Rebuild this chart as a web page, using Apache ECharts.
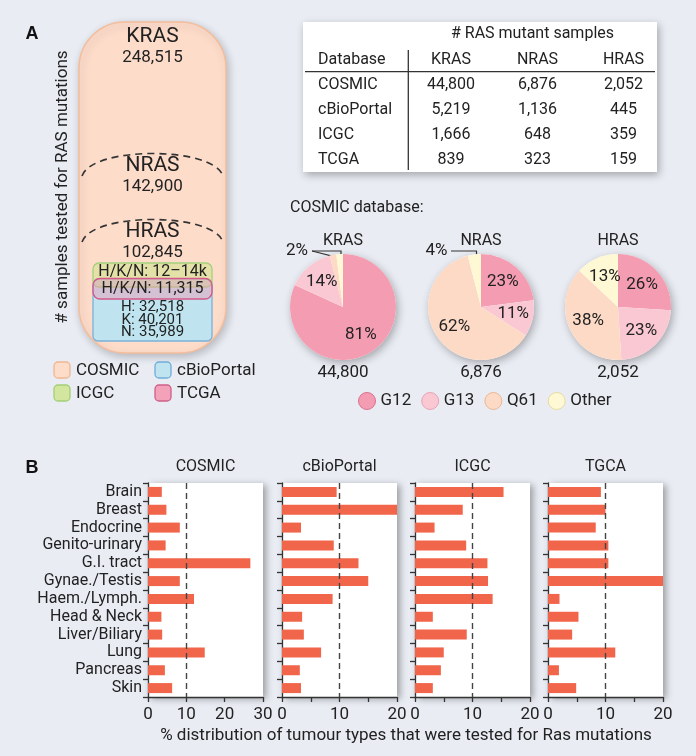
<!DOCTYPE html>
<html><head><meta charset="utf-8">
<script src="https://cdn.jsdelivr.net/npm/echarts@6/dist/echarts.min.js"></script>
<style>html,body{margin:0;padding:0;background:#e9ecf3}#c{width:696px;height:756px}</style>
</head><body><div id="c"></div>
<script>
// ---------- DATA ----------
const categories = ['Brain','Breast','Endocrine','Genito-urinary','G.I. tract','Gynae./Testis','Haem./Lymph.','Head & Neck','Liver/Biliary','Lung','Pancreas','Skin'];
const cosmicPct = [3.6,4.8,8.3,4.6,26.7,8.3,12.0,3.5,3.7,14.8,4.4,6.3];
const cbioPct   = [9.5,20,3.3,9.0,13.3,15.0,8.8,3.5,3.8,6.8,3.1,3.3];
const icgcPct   = [15.4,8.3,3.4,8.9,12.6,12.7,13.5,3.1,9.0,5.0,4.5,3.1];
const tgcaPct   = [9.2,10.0,8.3,10.5,10.5,20,2.0,5.3,4.2,11.7,1.9,4.9];
const panelNames = ['COSMIC','cBioPortal','ICGC','TGCA'];
const panelMax = [30,20,20,20];
const panelTickStep = [10,5,5,5];
const referenceLine = 10;

const tableTitle = '# RAS mutant samples';
const tableHeader = ['Database','KRAS','NRAS','HRAS'];
const tableDatabases = ['COSMIC','cBioPortal','ICGC','TCGA'];
const krasMutants = [44800,5219,1666,839];
const nrasMutants = [6876,1136,648,323];
const hrasMutants = [2052,445,359,159];

const pieGenes = ['KRAS','NRAS','HRAS'];
const mutTypes = ['G12','G13','Q61','Other'];
const krasMutPct = [81,14,2,2];
const nrasMutPct = [23,11,62,4];
const hrasMutPct = [26,23,38,13];

const testedGenes = ['KRAS','NRAS','HRAS'];
const cosmicTested = [248515,142900,102845];
const icgcTestedText = 'H/K/N: 12–14k';
const tcgaTested = 11315;
const cbioGeneLetters = ['H','K','N'];
const cbioTested = [32518,40201,35989];
const dbLegend = ['COSMIC','cBioPortal','ICGC','TCGA'];

// ---------- HELPERS ----------
const FF = 'Roboto';
const TXT = '#222';
const fmt = n => String(n).replace(/\B(?=(\d{3})+(?!\d))/g, ',');
function T(text, x, y, size, align, vAlign, extra) {
  const o = {type:'text', x:x, y:y, style:{text:text, fontSize:size, fontFamily:FF, fill:TXT,
    textAlign:align||'center', textVerticalAlign:vAlign||'middle', align:align||'center', verticalAlign:vAlign||'middle'}};
  if (extra) Object.assign(o, extra);
  return o;
}

const chart = echarts.init(document.getElementById('c'), null, {renderer:'canvas'});

// ---------- PANEL B (bars) ----------
const gridLefts = [148, 282, 415, 548];
const gridW = 115, gridTop = 483, gridH = 214;
const panelData = [cosmicPct, cbioPct, icgcPct, tgcaPct];
const grids = [], xAxes = [], yAxes = [], series = [];
panelData.forEach((d, i) => {
  grids.push({left:gridLefts[i], top:gridTop, width:gridW, height:gridH, show:true, backgroundColor:'#fff',
    borderWidth:0, shadowBlur:7, shadowColor:'rgba(0,0,0,0.35)', shadowOffsetX:3, shadowOffsetY:2});
  xAxes.push({gridIndex:i, type:'value', min:0, max:panelMax[i], interval:panelTickStep[i],
    axisLine:{show:true, lineStyle:{color:'#333', width:1.3}},
    axisTick:{show:true, length:5, lineStyle:{color:'#333', width:1.3}},
    splitLine:{show:false},
    axisLabel:{fontSize:17, color:TXT, fontFamily:FF, margin:9,
      formatter: v => (v % 10 === 0 ? String(v) : '')}});
  yAxes.push({gridIndex:i, type:'category', data:categories, inverse:true,
    axisLine:{show:true, lineStyle:{color:'#333', width:1.3}},
    axisTick:{show:true, length:5, lineStyle:{color:'#333', width:1.3}},
    axisLabel:{show:i===0, interval:0, fontSize:16, color:TXT, fontFamily:FF, margin:6}});
  series.push({type:'bar', xAxisIndex:i, yAxisIndex:i, data:d, barWidth:10,
    itemStyle:{color:'#f1654a'}, animation:false,
    markLine:{silent:true, symbol:'none', label:{show:false},
      lineStyle:{type:[6,4], color:'#444', width:1.4}, data:[{xAxis:referenceLine}]}});
});

// ---------- PIES ----------
const pieColors = ['#f49db2','#f9c8d3','#fddac6','#fef8d4'];
const pieBorders = ['#d9728e','#e9a3b4','#ebb797','#e6dca0'];
const pieCenters = [[343,307],[481,307],[618,307]];
const pieVals = [krasMutPct, nrasMutPct, hrasMutPct];
const pieR = 53;
pieVals.forEach((vals, g) => {
  series.push({type:'pie', center:pieCenters[g], radius:pieR, silent:true, animation:false, z:1,
    data:[{name:'_all', value:1}], label:{show:false}, labelLine:{show:false},
    itemStyle:{color:'#fff', shadowBlur:8, shadowColor:'rgba(0,0,0,0.3)', shadowOffsetX:2, shadowOffsetY:3}});
});
pieVals.forEach((vals, g) => {
  series.push({type:'pie', center:pieCenters[g], radius:pieR, startAngle:90, clockwise:true, animation:false, z:2,
    data: mutTypes.map((n,k) => ({name:n, value:vals[k], itemStyle:{color:pieColors[k]}})),
    label:{show:false}, labelLine:{show:false}});
});
pieVals.forEach((vals, g) => {
  series.push({type:'pie', center:pieCenters[g], radius:pieR + 7, startAngle:90, clockwise:true, animation:false, z:3, silent:true,
    data: mutTypes.map((n,k) => ({name:n, value:vals[k], itemStyle:{color:'rgba(0,0,0,0)'},
      label:{show: vals[k] >= 5}})),
    label:{show:true, position:'inside', formatter:'{c}%', fontSize:17, color:TXT, fontFamily:FF},
    labelLine:{show:false}});
});

// ---------- GRAPHICS ----------
const gr = [];
const bold = (t, x, y) => ({type:'text', x:x, y:y, style:{text:t, fontSize:18, fontWeight:'bold', fontFamily:'Liberation Sans', fill:'#111',
  textAlign:'center', textVerticalAlign:'middle', align:'center', verticalAlign:'middle'}});
gr.push(bold('A', 32, 34));
gr.push(bold('B', 32, 468));

// Box diagram
gr.push({type:'rect', shape:{x:79, y:22, width:147, height:331, r:46},
  style:{fill:'#fddcca', stroke:'#f4bd9b', lineWidth:1.5, shadowBlur:8, shadowColor:'rgba(0,0,0,0.22)', shadowOffsetX:2, shadowOffsetY:3}});
[0, 66].forEach(dy => {
  gr.push({type:'bezierCurve', shape:{x1:82, y1:176+dy, cpx1:92, cpy1:146+dy, cpx2:213, cpy2:146+dy, x2:223, y2:176+dy},
    style:{stroke:'#333', lineWidth:1.6, lineDash:[7,5], fill:null}});
});
const geneY = [37, 166, 232];
testedGenes.forEach((g, i) => {
  gr.push(T(g, 152.5, geneY[i], 21));
  gr.push(T(fmt(cosmicTested[i]), 152.5, geneY[i] + 21, 17));
});
gr.push({type:'rect', shape:{x:93, y:279, width:119, height:62, r:5}, style:{fill:'#bfe4ef', stroke:'#78b1dc', lineWidth:1.3}});
gr.push({type:'rect', shape:{x:93, y:263, width:119, height:24, r:6}, style:{fill:'rgba(205,230,140,0.55)', stroke:'#a5d07c', lineWidth:1.3}});
gr.push({type:'rect', shape:{x:93, y:278.5, width:119, height:20.5, r:7}, style:{fill:'rgba(240,150,180,0.45)', stroke:'#d4588a', lineWidth:1.3}});
gr.push(T(icgcTestedText, 152.5, 271.5, 16));
gr.push(T('H/K/N: ' + fmt(tcgaTested), 152.5, 289, 16));
cbioGeneLetters.forEach((l, i) => gr.push(T(l + ': ' + fmt(cbioTested[i]), 152.5, 307.5 + i*12.4, 15)));
gr.push(T('# samples tested for RAS mutations', 63, 187, 17, 'center', 'middle', {rotation:Math.PI/2}));

// DB legend
const legFill = ['#fddcca','#bfe4ef','#d3e6a0','#f4a2b9'];
const legStroke = ['#f1b690','#70acd9','#a3cf76','#cf5f89'];
dbLegend.forEach((n, i) => {
  const x = (i % 2 === 0) ? 54 : 155, y = (i < 2) ? 362 : 385;
  gr.push({type:'rect', shape:{x:x, y:y, width:16, height:16, r:4}, style:{fill:legFill[i], stroke:legStroke[i], lineWidth:1.3}});
  gr.push(T(n, x + 22, y + 8.5, 17, 'left'));
});

// Table
gr.push({type:'rect', shape:{x:303, y:22, width:354, height:150},
  style:{fill:'#fff', shadowBlur:8, shadowColor:'rgba(0,0,0,0.3)', shadowOffsetX:2, shadowOffsetY:3}});
gr.push(T(tableTitle, 532.5, 33.5, 16));
const colX = [318, 451, 537.5, 623.5];
tableHeader.forEach((h, c) => gr.push(T(h, colX[c], 60, 16, c === 0 ? 'left' : 'center')));
gr.push({type:'line', shape:{x1:305, y1:71.7, x2:655, y2:71.7}, style:{stroke:'#333', lineWidth:1.3}});
gr.push({type:'line', shape:{x1:408.3, y1:50, x2:408.3, y2:170}, style:{stroke:'#333', lineWidth:1.3}});
const rowY = [85, 110, 135, 159.5];
tableDatabases.forEach((db, r) => {
  gr.push(T(db, colX[0], rowY[r], 16, 'left'));
  gr.push(T(fmt(krasMutants[r]), colX[1], rowY[r], 16));
  gr.push(T(fmt(nrasMutants[r]), colX[2], rowY[r], 16));
  gr.push(T(fmt(hrasMutants[r]), colX[3], rowY[r], 16));
});

// Pie annotations
gr.push(T('COSMIC database:', 290, 208, 16, 'left'));
const pieTotals = [krasMutants[0], nrasMutants[0], hrasMutants[0]];
pieGenes.forEach((g, i) => {
  gr.push(T(g, pieCenters[i][0], 241, 16));
  gr.push(T(fmt(pieTotals[i]), pieCenters[i][0], 373, 17));
});
gr.push(T(krasMutPct[2] + '%', 297, 251, 17));
gr.push({type:'polyline', shape:{points:[[312,251],[341,251],[341,260]]}, style:{stroke:'#333', lineWidth:1.2, fill:null}});
gr.push({type:'polyline', shape:{points:[[312,251],[331.5,256],[331.5,260]]}, style:{stroke:'#333', lineWidth:1.2, fill:null}});
gr.push(T(nrasMutPct[3] + '%', 436.5, 251, 17));
gr.push({type:'polyline', shape:{points:[[451,251],[476.5,251],[476.5,260]]}, style:{stroke:'#333', lineWidth:1.2, fill:null}});

// Panel B titles and axis name
panelNames.forEach((n, i) => gr.push(T(n, gridLefts[i] + gridW/2, 467, 16)));
gr.push(T('% distribution of tumour types that were tested for Ras mutations', 406, 736, 17));

chart.setOption({
  backgroundColor:'#e9ecf3',
  animation:false,
  textStyle:{fontFamily:FF},
  grid:grids, xAxis:xAxes, yAxis:yAxes, series:series,
  legend:{data: mutTypes.map((n,k) => ({name:n, itemStyle:{color:pieColors[k], borderColor:pieBorders[k], borderWidth:1}})),
    left:353, top:387, icon:'circle', itemWidth:17, itemHeight:17, itemGap:10,
    textStyle:{fontSize:17, color:TXT, fontFamily:FF}, selectedMode:false},
  graphic:{elements:gr}
});
</script></body></html>
